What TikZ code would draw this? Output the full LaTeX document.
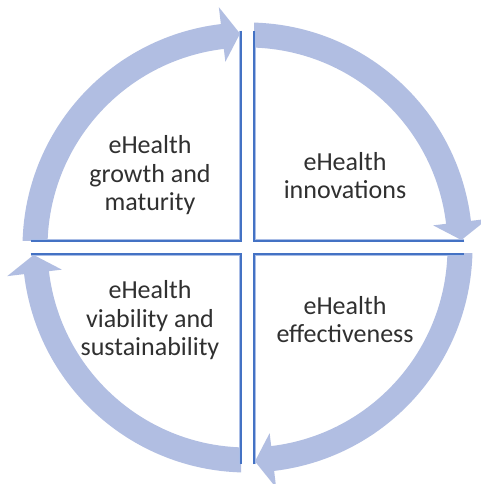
\documentclass[tikz,border=0pt]{standalone}
\usepackage{fontspec}
\setmainfont{Carlito}
\definecolor{bandblue}{HTML}{B1BEE2}
\definecolor{edgeblue}{HTML}{4472C4}
\definecolor{edgelight}{HTML}{A9BDE6}
\definecolor{labelgray}{HTML}{303030}
\begin{document}
\begin{tikzpicture}[x=1pt,y=1pt,
  band/.style={fill=bandblue},
  edgedark/.style={draw=edgeblue,line width=2pt},
  edgesoft/.style={draw=edgelight,line width=1.5pt},
  label/.style={text=labelgray,font=\fontsize{26}{28.5}\selectfont,align=center,inner sep=0pt}]
\useasboundingbox[fill=white] (0,0) rectangle (481,484);
\coordinate (C) at (247.5,236.5);
% four curved arrows of the cycle, each clipped to its quadrant
\begin{scope}[shift={(C)}]
\foreach \k in {0,1,2,3}{
  \begin{scope}[rotate=-90*\k]
    \begin{scope}
      \clip (-6.5,6.5) rectangle (-300,300);
      \fill[band] (180:225) arc[start angle=180,end angle=96.8,radius=225]
        -- (96.8:242) -- (92:214) -- (96.8:187) -- (96.8:200)
        arc[start angle=96.8,end angle=180,radius=200] -- cycle;
    \end{scope}
    % straight borders of the quadrant
    \draw[edgesoft] (-8,216.8) -- (-8,8) -- (-216.8,8);
    \draw[edgedark] (-6.3,216.9) -- (-6.3,6.3) -- (-216.9,6.3);
  \end{scope}
}
\end{scope}
\node[label] (growth) at (150,308.5) {eHealth\\growth and\\maturity};
\node[label] (innov) at (345,308.5) {eHealth\\innovations};
\node[label] (viab) at (150,163.5) {eHealth\\viability and\\sustainability};
\node[label] (effect) at (345,164.5) {eHealth\\effectiveness};
\end{tikzpicture}
\end{document}
